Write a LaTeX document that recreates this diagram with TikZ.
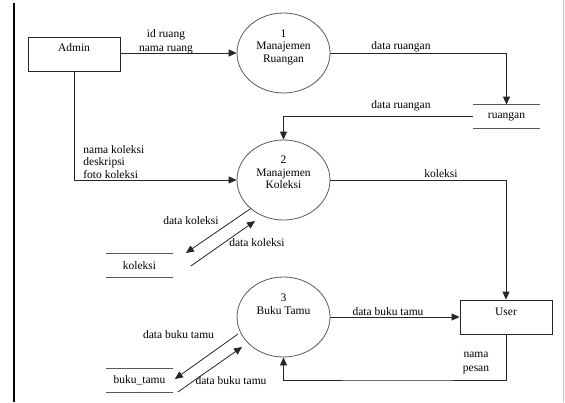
\documentclass[tikz,border=0pt]{standalone}
\usepackage{fontspec}
\setmainfont{Liberation Serif}
\usetikzlibrary{arrows.meta,shapes.geometric}
\begin{document}
\begin{tikzpicture}[x=1pt,y=-1pt,
  font=\fontsize{11.5}{12.5}\selectfont,
  line width=0.8pt,
  arr/.style={draw=black!85, -{Triangle[length=8pt,width=7pt]}},
  proc/.style={ellipse, draw=black!65, minimum width=93pt, minimum height=80pt, inner sep=0pt},
  ent/.style={rectangle, draw=black!85, minimum width=92pt, minimum height=34pt, inner sep=0pt},
  store/.style={minimum width=66pt, minimum height=23pt, inner sep=0pt},
  storeline/.style={draw=black!65},
  lbl/.style={inner sep=0pt, align=center},
]
\useasboundingbox (0,0) rectangle (565,402);
\draw[line width=1.2pt] (14,3) -- (14,402);
\draw[black!25, line width=1.5pt] (563.5,0) -- (563.5,402);

% entities
\node[ent, label={[lbl, yshift=6pt]center:Admin}] (admin) at (74,54) {};
\node[ent, label={[lbl, yshift=5pt]center:User}] (user) at (506,317) {};

% processes
\node[proc, label={[lbl, yshift=6pt]center:1\\Manajemen\\Ruangan}] (c1) at (283.5,53) {};
\node[proc, label={[lbl, yshift=7.5pt]center:2\\Manajemen\\Koleksi}] (c2) at (283.5,180) {};
\node[proc, label={[lbl, yshift=13pt]center:3\\Buku Tamu}] (c3) at (283.5,317) {};

% data stores
\node[store] (ruangan) at (506.5,116.5) {ruangan};
\draw[storeline] (ruangan.north west) -- (ruangan.north east) (ruangan.south west) -- (ruangan.south east);
\node[store] (koleksi) at (139.5,265.5) {koleksi};
\draw[storeline] (koleksi.north west) -- (koleksi.north east) (koleksi.south west) -- (koleksi.south east);
\node[store] (bukutamu) at (139.5,380.5) {buku\_tamu};
\draw[storeline] (bukutamu.north west) -- (bukutamu.north east) (bukutamu.south west) -- (bukutamu.south east);

% connectors
\draw[arr] (admin.east |- c1.west) -- (c1.west);
\draw[arr] (c1.east) -| (ruangan.north);
\draw[arr] (ruangan.west) -| (c2.north);
\draw[arr] (admin.south) |- (c2.west);
\draw[arr] (c2.east) -| (user.north);
\draw[arr] (c3.east) -- (user.west);
\coordinate (back) at (400,380);
\draw[arr] (user.south) |- (back) -| (c3.south);
\draw[arr] (c2.221) -- ([shift={(13,-12.5)}]koleksi.east);
\draw[arr] ([shift={(18,0.5)}]koleksi.east) -- ([shift={(-28.5,41)}]c2.center);
\draw[arr] ([shift={(-45.5,17)}]c3.center) -- ([shift={(2,-1.5)}]bukutamu.east);
\draw[arr] ([shift={(5,11.5)}]bukutamu.east) -- ([shift={(-41.5,30)}]c3.center);

% labels
\node[lbl] (l1) at (166,42) {id ruang\\[1.5pt]nama ruang};
\node[lbl] (l2) at (401,47) {data ruangan};
\node[lbl] (l3) at (401,106) {data ruangan};
\node[lbl, align=left, anchor=west] (l4) at (83,162) {nama koleksi\\deskripsi\\foto koleksi};
\node[lbl] (l5) at (441,174) {koleksi};
\node[lbl] (l6) at (191,220.5) {data koleksi};
\node[lbl] (l7) at (257,242.5) {data koleksi};
\node[lbl] (l8) at (178.5,335) {data buku tamu};
\node[lbl] (l9) at (231,381) {data buku tamu};
\node[lbl] (l10) at (388,312) {data buku tamu};
\node[lbl] (l11) at (476,363) {nama\\[1.5pt]pesan};
\end{tikzpicture}
\end{document}
